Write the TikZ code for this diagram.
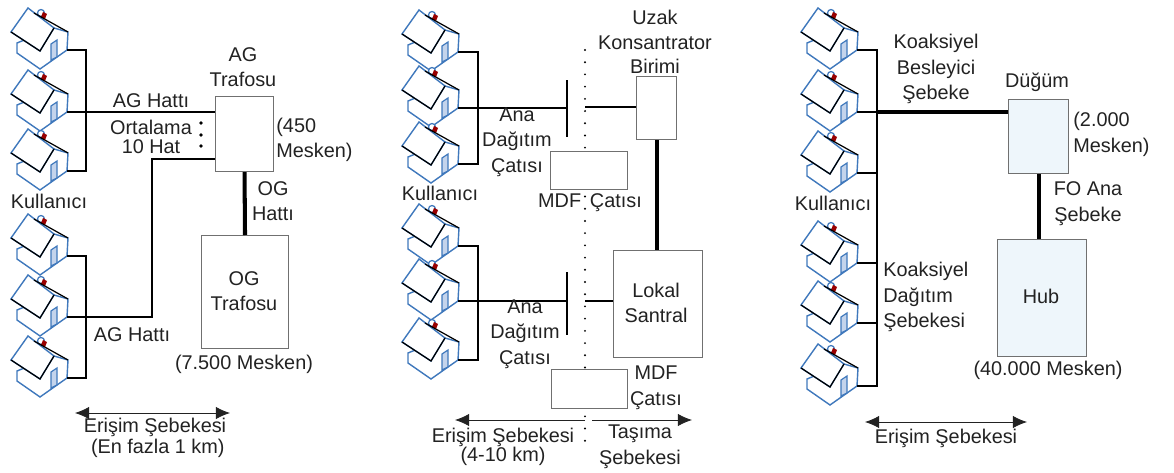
\documentclass[tikz,border=0pt]{standalone}
\usepackage{fontspec}
\setmainfont{Liberation Sans}
\usepackage{xcolor}
\usetikzlibrary{arrows.meta}
\definecolor{houseblue}{HTML}{3F78BC}
\definecolor{doorblue}{HTML}{C4D4EC}
\definecolor{boxgray}{HTML}{707070}
\definecolor{paleblue}{HTML}{EEF6FB}
\definecolor{inkgray}{HTML}{222222}
\tikzset{
    lbl/.style={inner sep=0pt, align=center, text=inkgray, font=\fontsize{11.3}{14.6}\selectfont},
    lblleft/.style={lbl, align=left, anchor=west},
    wire/.style={black, line width=1.1pt},
    trunk/.style={black, line width=2.3pt},
    boxn/.style={draw=boxgray, line width=0.6pt, fill=white, inner sep=0pt, anchor=north west},
    span/.style={<->, >={Latex[length=8pt,width=7pt]}, draw=inkgray, line width=0.5pt},
    house/.pic={
        \coordinate (-tip) at (0,0);
        \filldraw[fill=white, draw=houseblue, line width=0.7pt] (-26,-37) circle (3.5);
        \fill[red!60!black] (-24,-38) -- (-20,-36) -- (-22,-31) -- (-26,-33) -- cycle;
        \filldraw[fill=white, draw=houseblue, line width=0.8pt] (-50,-7) -- (-50,3) -- (-27,19) -- (0,0) -- (1,-18) -- (-13,-22) -- cycle;
        \filldraw[fill=doorblue, draw=houseblue, line width=0.7pt] (-16,-6) -- (-10,-10) -- (-10,7) -- (-16,10) -- cycle;
        \filldraw[fill=white, draw=houseblue, line width=0.8pt] (-56,-18) -- (-39,-42) -- (-13,-22) -- (-27,1) -- cycle;
        \draw[black, line width=0.7pt] (-56,-18) -- (-27,1) -- (-13,-22);
        \draw[black, line width=0.7pt] (-33,-37) -- (1,-18);
    }
}
\begin{document}
\begin{tikzpicture}[x=0.02cm, y=-0.02cm]
    \useasboundingbox (0,0) rectangle (1174,473);

    \foreach \n/\x/\y in {a1/67/50,a2/67/112,a3/67/171,a4/67/256,a5/67/317,a6/67/378,
        b1/458/52,b2/458/108,b3/458/164,b4/458/246,b5/458/301,b6/458/360,
        c1/857/50,c2/857/112,c3/857/173,c4/857/263,c5/857/323,c6/857/386} {
        \pic (\n) at (\x,\y) {house};
    }

    \node[boxn, minimum width=1.16cm, minimum height=1.5cm] (agbox) at (215,96) {};
    \node[boxn, minimum width=1.74cm, minimum height=2.26cm, align=center] (ogbox) at (201,235) {};
    \coordinate (abus) at (86,112);
    \coordinate (aturn) at (152,159);
    \draw[wire] (a1-tip) -- (a1-tip -| abus) -- (a3-tip -| abus) -- (a3-tip);
    \draw[wire] (a4-tip) -- (a4-tip -| abus) -- (a6-tip -| abus) -- (a6-tip);
    \draw[wire] (a2-tip) -- (a2-tip -| agbox.west);
    \draw[wire] (a5-tip) -- (a5-tip -| aturn) -- (aturn) -- (aturn -| agbox.west);
    \draw[trunk] (agbox.south) -- (ogbox.north);
    \foreach \y in {123,135,146} { \fill[black] (201,\y) circle (1.8); }
    \node[lbl] (agname) at (243,67) {AG\\Trafosu};
    \node[lbl] (aghatta) at (151,101) {AG Hattı};
    \node[lbl, font=\fontsize{11.3}{11.2}\selectfont] (agavg) at (151,137) {Ortalama\\10 Hat};
    \node[lbl] (kula) at (49,201) {Kullanıcı};
    \node[lblleft] (agcount) at (276,140) {(450\\Mesken)};
    \node[lbl] (oghat) at (273,201) {OG\\Hattı};
    \node[lbl] (ogname) at (244,291) {OG\\Trafosu};
    \node[lbl] (aghattb) at (132,335) {AG Hattı};
    \node[lbl] (ogcount) at (244,364) {(7.500 Mesken)};
    \coordinate (aspanl) at (75,413);
    \coordinate (aspanr) at (230,413);
    \draw[span] (aspanl) -- (aspanr);
    \node[lbl, font=\fontsize{11.3}{11.6}\selectfont] (aerisim) at (155,438) {Erişim Şebekesi\\\ (En fazla 1 km)};

    \coordinate (dota) at (585,50);
    \coordinate (dotb) at (585,450);
    \draw[black, line width=1.2pt, line cap=round, dash pattern=on 0pt off 6.95pt] (dota) -- (dotb);
    \node[boxn, minimum width=1.54cm, minimum height=0.76cm] (mdfa) at (550,151) {};
    \node[boxn, minimum width=1.52cm, minimum height=0.78cm] (mdfb) at (551,369) {};
    \node[boxn, minimum width=0.8cm, minimum height=1.26cm] (uzak) at (636,76) {};
    \node[boxn, minimum width=1.78cm, minimum height=2.14cm] (lokal) at (613,250) {};
    \coordinate (bbus) at (478,108);
    \coordinate (bara) at (567,108);
    \coordinate (barb) at (567,301);
    \coordinate (tapa) at (585,107);
    \coordinate (tapb) at (585,301);
    \draw[wire] (b1-tip) -- (b1-tip -| bbus) -- (b3-tip -| bbus) -- (b3-tip);
    \draw[wire] (b4-tip) -- (b4-tip -| bbus) -- (b6-tip -| bbus) -- (b6-tip);
    \draw[wire] (b2-tip) -- (bara);
    \draw[wire] (b5-tip) -- (barb);
    \draw[wire] ([yshift=0.56cm]bara) -- ([yshift=-0.58cm]bara);
    \draw[wire] ([yshift=0.58cm]barb) -- ([yshift=-0.68cm]barb);
    \draw[wire] (tapa) -- (tapa -| uzak.west);
    \draw[wire] (tapb) -- (tapb -| lokal.west);
    \draw[trunk] (uzak.south) -- (uzak.south |- lokal.north);
    \node[lbl, font=\fontsize{11.3}{13.8}\selectfont] (uzakname) at (655,42) {Uzak\\Konsantrator\\Birimi};
    \node[lbl] (anaa) at (517,142) {Ana\\Dağıtım\\Çatısı};
    \node[lbl] (kulb) at (440,193) {Kullanıcı};
    \node[lbl] (mdfaname) at (590,203) {MDF\hspace{5pt}Çatısı};
    \node[lbl] (anab) at (525,334) {Ana\\Dağıtım\\Çatısı};
    \node[lbl] (lokalname) at (656,303) {Lokal\\Santral};
    \node[lbl] (mdfbname) at (656,388) {MDF\\Çatısı};
    \coordinate (bspanl) at (455,420);
    \coordinate (bspanm) at (585,420);
    \coordinate (bspann) at (592,420);
    \coordinate (bspanr) at (692,420);
    \draw[draw=inkgray, line width=0.5pt, -{Latex[length=8pt,width=7pt]}] (bspanm) -- (bspanl);
    \draw[draw=inkgray, line width=0.5pt, -{Latex[length=8pt,width=7pt]}] (bspann) -- (bspanr);
    \node[lbl, font=\fontsize{11.3}{11.2}\selectfont] (berisim) at (503,447) {Erişim Şebekesi\\(4-10 km)};
    \node[lbl] (tasima) at (640,447) {Taşıma\\Şebekesi};

    \node[boxn, fill=paleblue, minimum width=1.2cm, minimum height=1.48cm] (dugum) at (1008,99) {};
    \node[boxn, fill=paleblue, minimum width=1.78cm, minimum height=2.34cm] (hub) at (997,239) {};
    \coordinate (cbus) at (877,112);
    \draw[wire] (c1-tip) -- (c1-tip -| cbus) -- (c6-tip -| cbus) -- (c6-tip);
    \draw[wire] (c3-tip) -- (c3-tip -| cbus);
    \draw[wire] (c4-tip) -- (c4-tip -| cbus);
    \draw[wire] (c5-tip) -- (c5-tip -| cbus);
    \draw[wire] (c2-tip) -- (cbus);
    \draw[trunk] (cbus) -- (cbus -| dugum.west);
    \draw[trunk] (dugum.south) -- (dugum.south |- hub.north);
    \node[lbl] (koaksa) at (936,69) {Koaksiyel\\Besleyici\\Şebeke};
    \node[lbl] (dugumname) at (1037,82) {Düğüm};
    \node[lblleft] (dugumcount) at (1073,134.5) {(2.000\\Mesken)};
    \node[lbl] (foana) at (1088,203.5) {FO Ana\\Şebeke};
    \node[lbl] (kulc) at (833,203) {Kullanıcı};
    \node[lblleft] (koaksb) at (883,297) {Koaksiyel\\Dağıtım\\Şebekesi};
    \node[lbl] (hubname) at (1041,296) {Hub};
    \node[lbl] (hubcount) at (1048,370) {(40.000 Mesken)};
    \coordinate (cspanl) at (865,422);
    \coordinate (cspanr) at (1027,422);
    \draw[span] (cspanl) -- (cspanr);
    \node[lbl] (cerisim) at (946,438) {Erişim Şebekesi};
\end{tikzpicture}
\end{document}
